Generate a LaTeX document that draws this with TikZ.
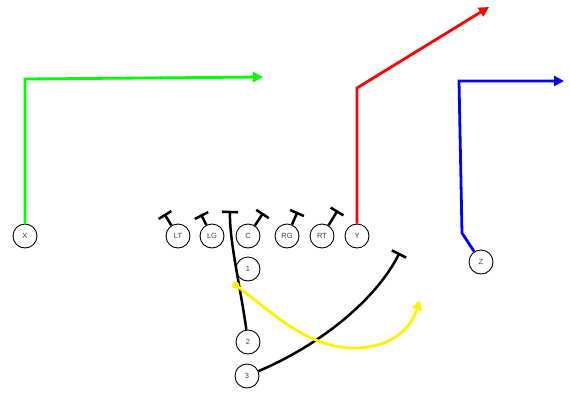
\documentclass[tikz,border=0pt]{standalone}
\usepackage{fontspec}
\setsansfont{Liberation Sans}
\usepackage{tikz}
\usetikzlibrary{arrows.meta,calc}

\begin{document}
\begin{tikzpicture}[x=1pt,y=-1pt,
  player/.style={circle,draw,line width=0.9pt,minimum size=24pt,inner sep=0pt,
    font=\sffamily\fontsize{7.5}{7.5}\selectfont,text=black!75},
  route/.style={line width=2.8pt,-{Triangle[length=10pt,width=10pt]}},
  blk/.style={line width=2.5pt}]
\useasboundingbox (0,0) rectangle (570,394);

% formation
\node[player] (x) at (25,236) {X};
\node[player] (lt) at (178,236) {LT};
\node[player] (lg) at (212,236) {LG};
\node[player] (c) at (248,236) {C};
\node[player] (rg) at (287,236) {RG};
\node[player] (rt) at (322,236) {RT};
\node[player] (y) at (357,236) {Y};
\node[player] (z) at (481,262) {Z};
\node[player] (q1) at (248,269) {1};
\node[player] (q2) at (248,342) {2};
\node[player] (q3) at (247,376) {3};

% line blocks
\foreach \p/\bx/\by in {lt/165/215, lg/201.5/215.5, c/262.5/214, rg/297/213, rt/337/211.5} {
  \coordinate (\p b) at (\bx,\by);
  \draw[blk] (\p) -- (\p b);
  \draw[blk] ($(\p b)!7.5pt!90:(\p)$) -- ($(\p b)!7.5pt!-90:(\p)$);
}

% routes
\coordinate (xc) at (25,79);
\coordinate (xe) at (263,77);
\draw[route,green] (x) -- (xc) -- (xe);
\coordinate (yc) at (357,88);
\coordinate (ye) at (489,7);
\draw[route,red] (y) -- (yc) -- (ye);
\coordinate (zc) at (462,233);
\coordinate (zd) at (459,81);
\coordinate (ze) at (564,81);
\draw[route,blue] (z) -- (zc) -- (zd) -- (ze);

% backs
\coordinate (q2b) at (230,212);
\draw[blk] (q2) .. controls (241,290) and (229,240) .. (q2b);
\draw[blk] ($(q2b)!8pt!90:(229,240)$) -- ($(q2b)!8pt!-90:(229,240)$);
\coordinate (q3b) at (399,254);
\draw[blk] (q3) .. controls (320,345) and (376,300) .. (q3b);
\draw[blk] ($(q3b)!8pt!90:(376,300)$) -- ($(q3b)!8pt!-90:(376,300)$);

% swing
\coordinate (s1) at (233,283);
\coordinate (s2) at (350,348);
\coordinate (s3) at (420,300);
\draw[yellow,line width=2.8pt,{Circle[length=7pt]}-{Triangle[length=10pt,width=10pt]}]
  (s1) .. controls (275,315) and (305,345) .. (s2) .. controls (390,349) and (410,330) .. (s3);
\end{tikzpicture}
\end{document}
